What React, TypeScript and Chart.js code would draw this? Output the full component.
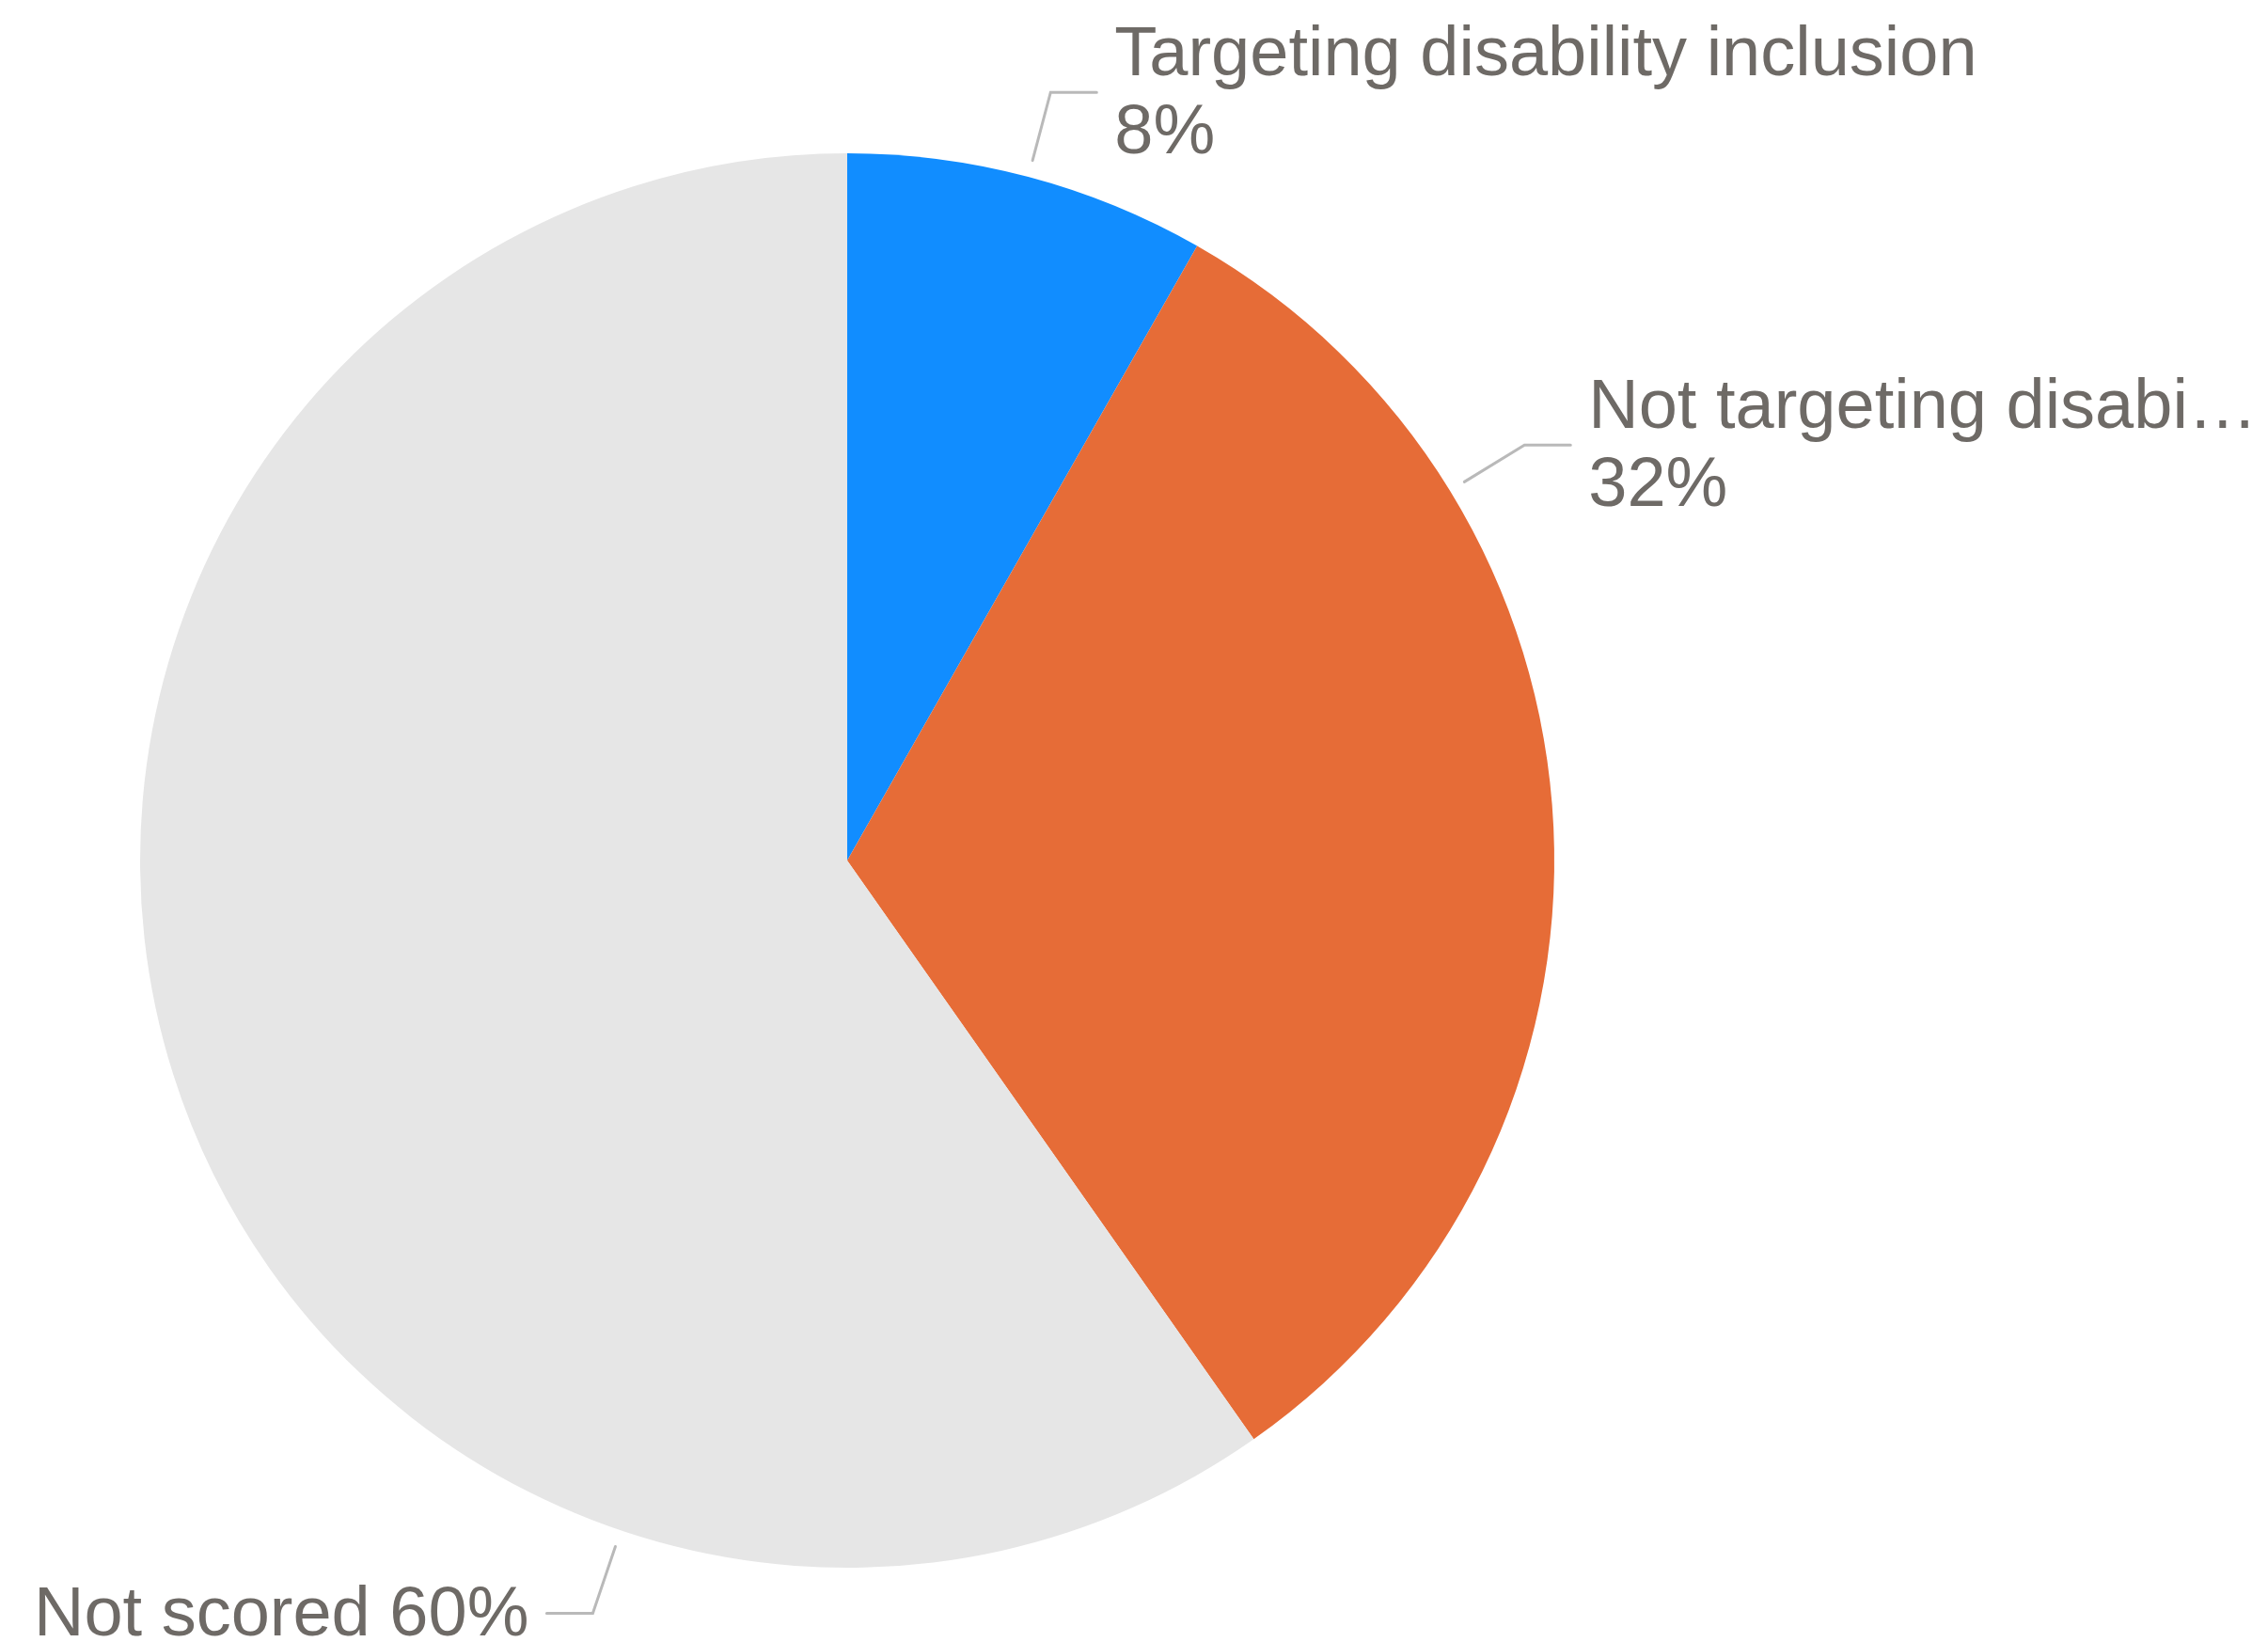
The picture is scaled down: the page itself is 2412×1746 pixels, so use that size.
import React, { useEffect, useRef } from "react";
import { Chart, registerables } from "chart.js";

Chart.register(...registerables);

const categories = [
  "Targeting disability inclusion",
  "Not targeting disability inclusion",
  "Not scored",
];
const seriesValues = [8.24, 32.01, 59.75];
const sliceColors = ["#118DFF", "#E66C37", "#E6E6E6"];

// label layout (style, not data): where along each slice the leader starts, and line mode
const leaderFractions = [0.5, 0.25, 0.25];
const labelModes = ["stacked", "stacked", "inline"];

const FONT = '74px "Liberation Sans", Arial, sans-serif';
const TEXT_COLOR = "#6E6A66";
const LEADER_COLOR = "#B9B9B9";

const labelPlugin = {
  id: "leaderLabels",
  afterDraw(chart: any) {
    const ctx = chart.ctx as CanvasRenderingContext2D;
    const meta = chart.getDatasetMeta(0);
    const data = chart.data.datasets[0].data as number[];
    const total = data.reduce((a, b) => a + b, 0);
    ctx.save();
    ctx.font = FONT;
    meta.data.forEach((arc: any, i: number) => {
      const { x, y, startAngle, endAngle, outerRadius } = arc.getProps(
        ["x", "y", "startAngle", "endAngle", "outerRadius"],
        true
      );
      const a = startAngle + (endAngle - startAngle) * leaderFractions[i];
      const r0 = outerRadius + 18;
      const r1 = outerRadius + 93;
      const p0x = x + Math.cos(a) * r0;
      const p0y = y + Math.sin(a) * r0;
      const p1x = x + Math.cos(a) * r1;
      const p1y = y + Math.sin(a) * r1;
      const right = Math.cos(a) >= 0;
      const p2x = p1x + (right ? 49 : -49);
      ctx.strokeStyle = LEADER_COLOR;
      ctx.lineWidth = 3;
      ctx.lineCap = "round";
      ctx.lineJoin = "miter";
      ctx.beginPath();
      ctx.moveTo(p0x, p0y);
      ctx.lineTo(p1x, p1y);
      ctx.lineTo(p2x, p1y);
      ctx.stroke();

      const pct = Math.round((data[i] / total) * 100) + "%";
      const tx = p2x + (right ? 19 : -19);
      ctx.fillStyle = TEXT_COLOR;
      ctx.textAlign = right ? "left" : "right";
      ctx.textBaseline = "alphabetic";
      const maxW = right ? chart.width - tx : tx;
      const fit = (s: string) => {
        if (ctx.measureText(s).width <= maxW) return s;
        let t = s;
        while (t.length > 1 && ctx.measureText(t + "…").width > maxW) {
          t = t.slice(0, -1);
        }
        return t.replace(/\s+$/, "") + "…";
      };
      const name = String(chart.data.labels[i]);
      if (labelModes[i] === "stacked") {
        ctx.fillText(fit(name), tx, p1y - 18);
        ctx.fillText(pct, tx, p1y + 65);
      } else {
        ctx.fillText(fit(name + " " + pct), tx, p1y + 23);
      }
    });
    ctx.restore();
  },
};

export default function App() {
  const ref = useRef<HTMLCanvasElement | null>(null);
  useEffect(() => {
    document.body.style.margin = "0";
    const canvas = ref.current;
    if (!canvas) return;
    const chart = new Chart(canvas, {
      type: "pie",
      data: {
        labels: categories,
        datasets: [
          {
            data: seriesValues,
            backgroundColor: sliceColors,
            borderWidth: 0,
          },
        ],
      },
      options: {
        animation: false,
        responsive: false,
        maintainAspectRatio: false,
        layout: { padding: { top: 163, bottom: 79, left: 149, right: 759 } },
        plugins: {
          legend: { display: false },
          tooltip: { enabled: false },
        },
      },
      plugins: [labelPlugin],
    });
    return () => chart.destroy();
  }, []);
  return (
    <div style={{ position: "absolute", left: 0, top: 0, width: 2412, height: 1746, background: "#fff" }}>
      <canvas ref={ref} width={2412} height={1746} style={{ width: 2412, height: 1746, display: "block" }} />
    </div>
  );
}
